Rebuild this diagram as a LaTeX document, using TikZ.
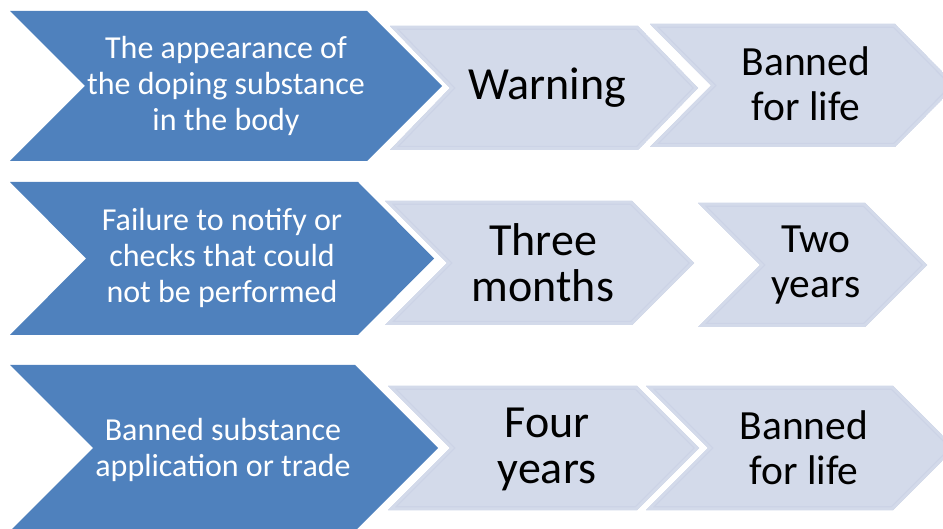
\documentclass[tikz,border=0pt]{standalone}
\usepackage{fontspec}
\setmainfont{Carlito}
\definecolor{chevblue}{HTML}{4F81BD}
\definecolor{chevpale}{HTML}{D3DAEA}
\definecolor{chevedge}{HTML}{CCD3E6}

% chevron outline: left, top, right (top corner), bottom, point depth
\newcommand{\chevpts}[5]{(#1,#2) -- (#3,#2) -- ({#3+#5},{(#2+#4)/2}) -- (#3,#4) -- (#1,#4) -- ({#1+#5},{(#2+#4)/2}) -- cycle}
\newcommand{\bluechevron}[5]{\fill[chevblue] \chevpts{#1}{#2}{#3}{#4}{#5};}
\newcommand{\palechevron}[5]{%
  \draw[white, line width=6pt] \chevpts{#1}{#2}{#3}{#4}{#5};
  \begin{scope}
    \clip \chevpts{#1}{#2}{#3}{#4}{#5};
    \fill[chevpale] \chevpts{#1}{#2}{#3}{#4}{#5};
    \draw[chevedge, line width=8pt] \chevpts{#1}{#2}{#3}{#4}{#5};
    \draw[chevpale, line width=5.5pt] \chevpts{#1}{#2}{#3}{#4}{#5};
  \end{scope}}

\begin{document}
\begin{tikzpicture}[x=1pt, y=1pt, line join=miter,
    every node/.style={inner sep=0pt, align=center},
    cause text/.style={white, font=\fontsize{32}{36}\selectfont},
    first text/.style={black, font=\fontsize{46}{46}\selectfont},
    second text/.style={black, font=\fontsize{41.5}{45}\selectfont}]
  \useasboundingbox (0,0) rectangle (943,-529);
  % row 1
  \bluechevron{10}{-11}{367}{-161}{75}
  \palechevron{390}{-26}{638}{-150}{60}
  \palechevron{650}{-24}{895}{-147}{61}
  % row 2
  \bluechevron{10}{-182}{358}{-335}{76}
  \palechevron{385}{-201}{632}{-325}{62}
  \palechevron{698}{-203}{865}{-327}{62}
  % row 3
  \bluechevron{10}{-365}{355}{-531}{83}
  \palechevron{388}{-386}{637}{-510}{62}
  \palechevron{646}{-386}{893}{-510}{62}

  \node[cause text] (cause1) at (226,-86) {The appearance of\\the doping substance\\in the body};
  \node[first text] (first1) at (547,-88) {Warning};
  \node[second text] (second1) at (806,-84) {Banned\\for life};

  \node[cause text] (cause2) at (222,-258) {Failure to notify or\\checks that could\\not be performed};
  \node[first text] (first2) at (543,-263) {Three\\months};
  \node[second text] (second2) at (816,-265) {Two\\years};

  \node[cause text] (cause3) at (223,-450) {Banned substance\\application or trade};
  \node[first text] (first3) at (547,-449) {Four\\years};
  \node[second text] (second3) at (804,-448) {Banned\\for life};
\end{tikzpicture}
\end{document}
